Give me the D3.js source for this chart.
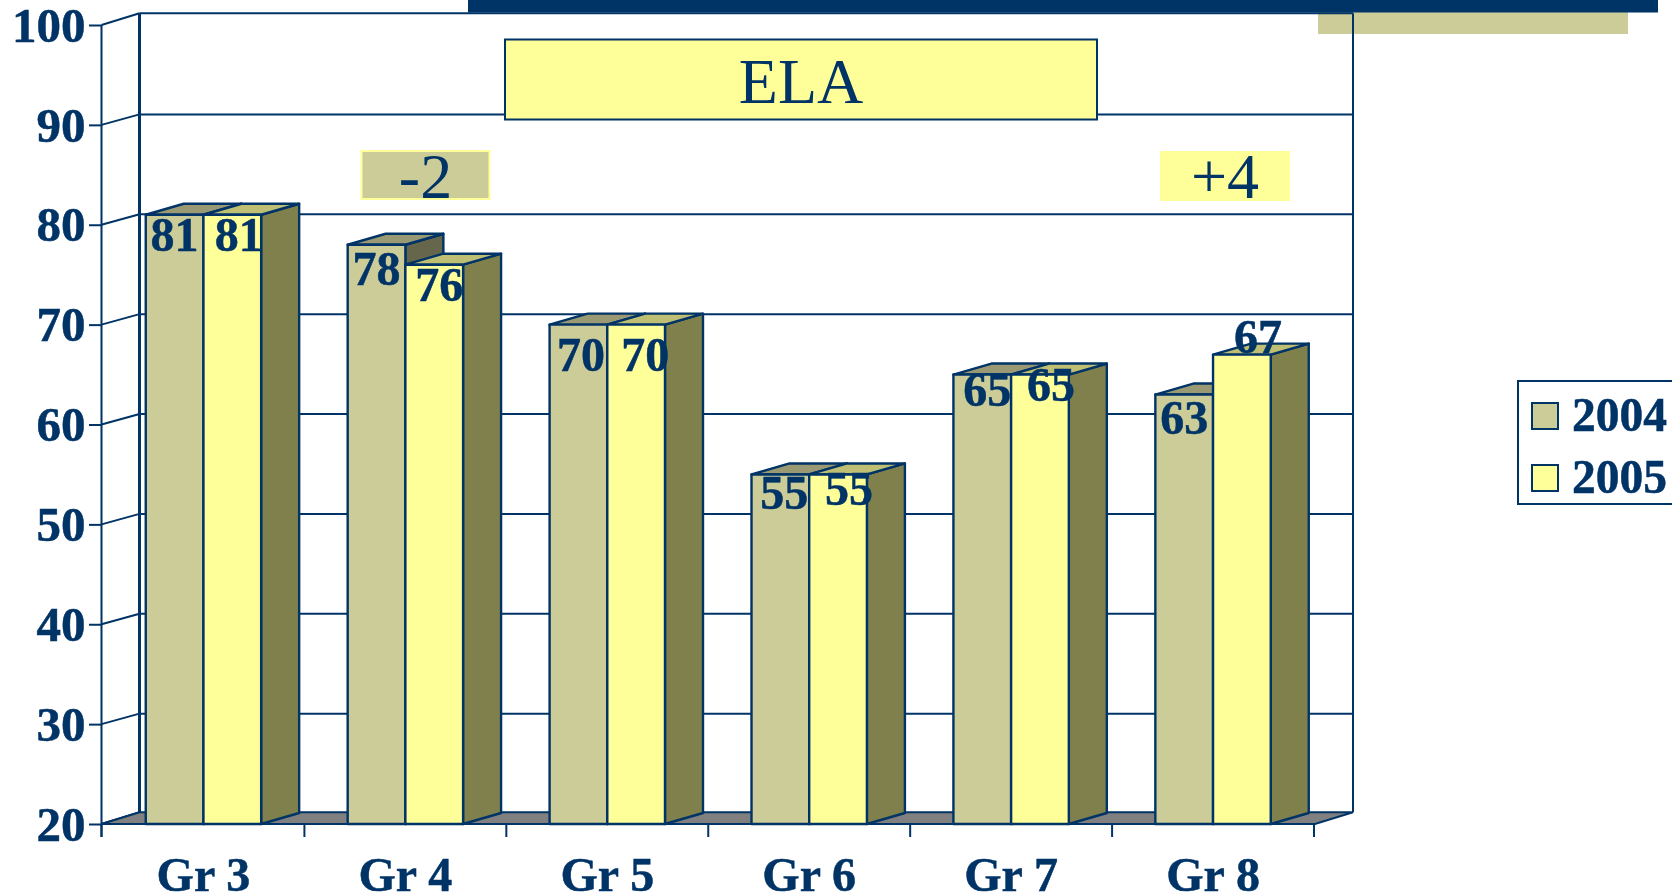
<!DOCTYPE html>
<html>
<head>
<meta charset="utf-8">
<script src="https://cdn.jsdelivr.net/npm/d3@7/dist/d3.min.js"></script>
<style>
html,body{margin:0;padding:0;background:#fff;overflow:hidden}
svg{display:block;filter:blur(0.35px)}
text{font-family:"Liberation Serif","Times New Roman",serif;fill:#003366}
.b{stroke:#003366;stroke-width:0.5px}
</style>
</head>
<body>
<svg id="c" width="1672" height="896"></svg>
<script>
// ---- data ----
const categories = ["Gr 3","Gr 4","Gr 5","Gr 6","Gr 7","Gr 8"];
const seriesNames = ["2004","2005"];
const values2004 = [81,78,70,55,65,63];
const values2005 = [81,76,70,55,65,67];
const yTicks = [20,30,40,50,60,70,80,90,100];
const chartTitle = "ELA";
const changeLeft = "-2";
const changeRight = "+4";

// ---- label placement relative to each bar (dx from bar centre, dy from bar top) ----
const labelOffset2004 = [[0,36],[0,40],[2.5,46],[4,35],[5,31],[0,39]];
const labelOffset2005 = [[6.5,36],[5,36],[9,46],[11,31],[11,26],[16,-2]];

// ---- layout ----
const navy = "#003366";
const F = {l:101.5, r:1315, t:25, b:824};
const wallDepth = {x:38, y:-11.7};
const gridDepth = -10.5;
const barDepth = {x:38, y:-11};
const faces = {
  "2004": {front:"#CCCC99", top:"#999973", side:"#66664D"},
  "2005": {front:"#FFFF99", top:"#BFBF73", side:"#80804D"}
};

const svg = d3.select("#c");
const x = d3.scaleBand().domain(categories).range([F.l+1,F.r-1]);
const xInner = d3.scaleBand().domain(seriesNames).range([-57.7,57.7]);
const y = d3.scaleLinear().domain([20,100]).range([F.b,F.t]);
const bx = F.l + wallDepth.x, bxr = F.r + wallDepth.x;
const backY = d=> (d===20||d===100) ? y(d)+wallDepth.y : y(d)+gridDepth;

// decorative bars behind the chart
svg.append("rect").attr("x",1318).attr("y",10).attr("width",310).attr("height",24).attr("fill","#CCCC99");
svg.append("rect").attr("x",468).attr("y",0).attr("width",1190).attr("height",12.5).attr("fill",navy);

// walls and gridlines
const walls = svg.append("g").attr("fill","none").attr("stroke",navy);
walls.append("g").selectAll("line").data(yTicks.slice(1)).join("line")
  .attr("x1",bx).attr("x2",bxr)
  .attr("y1",backY).attr("y2",backY)
  .attr("stroke-width",2);
walls.append("g").selectAll("line").data(yTicks).join("line")
  .attr("x1",F.l).attr("x2",bx)
  .attr("y1",d=>y(d)).attr("y2",backY)
  .attr("stroke-width",2);
walls.append("line").attr("x1",bx).attr("x2",bx).attr("y1",y(100)+wallDepth.y).attr("y2",y(20)+wallDepth.y).attr("stroke-width",3);
walls.append("line").attr("x1",bxr).attr("x2",bxr).attr("y1",y(100)+wallDepth.y).attr("y2",y(20)+wallDepth.y).attr("stroke-width",2);

// floor
svg.append("polygon")
  .attr("points",[[F.l,F.b],[F.r,F.b],[bxr,F.b+wallDepth.y],[bx,F.b+wallDepth.y]].join(" "))
  .attr("fill","#808080").attr("stroke",navy).attr("stroke-width",2);

// axes
const yAxis = d3.axisLeft(y).tickValues(yTicks).tickSize(12.5).tickPadding(3.5);
const gy = svg.append("g").attr("transform",`translate(${F.l},0)`).call(yAxis);
gy.selectAll("text").attr("class","b").attr("font-size",49).attr("font-weight","bold").attr("dy","0.33em").style("fill",navy)
  .attr("font-family",'"Liberation Serif"');
gy.selectAll("line").attr("stroke",navy).attr("stroke-width",2);
gy.select(".domain").remove();

const xAxis = d3.axisBottom(x).tickSize(0).tickPadding(0);
const gx = svg.append("g").attr("transform",`translate(0,${F.b})`).call(xAxis);
gx.select(".domain").remove();
gx.selectAll("text").attr("class","b").attr("font-size",48).attr("font-weight","bold").attr("dy",0).attr("y",67)
  .style("fill",navy).attr("font-family",'"Liberation Serif"');
const edges = categories.map(c=>x(c)).concat(x.range()[1]);
edges[0] = F.l;
svg.append("g").selectAll("line").data(edges).join("line")
  .attr("x1",d=>d).attr("x2",d=>d).attr("y1",F.b).attr("y2",F.b+13)
  .attr("stroke",navy).attr("stroke-width",2);
svg.append("line").attr("x1",F.l).attr("x2",F.l).attr("y1",F.t).attr("y2",F.b+13).attr("stroke",navy).attr("stroke-width",2);
svg.append("line").attr("x1",F.l).attr("x2",F.r).attr("y1",F.b).attr("y2",F.b).attr("stroke",navy).attr("stroke-width",2);

// bars
const rows = [];
categories.forEach((c,i)=>{
  rows.push({c,s:"2004",v:values2004[i],o:labelOffset2004[i]});
  rows.push({c,s:"2005",v:values2005[i],o:labelOffset2005[i]});
});
const w = xInner.bandwidth();
const left = d=>x(d.c)+x.bandwidth()/2+xInner(d.s);
const bars = svg.append("g").selectAll("g").data(rows).join("g")
  .attr("stroke",navy).attr("stroke-width",2.4).attr("stroke-linejoin","round");
bars.append("polygon").attr("fill",d=>faces[d.s].side)
  .attr("points",d=>{const l=left(d)+w,t=y(d.v);return [[l,t],[l+barDepth.x,t+barDepth.y],[l+barDepth.x,F.b+barDepth.y],[l,F.b]].join(" ");});
bars.append("polygon").attr("fill",d=>faces[d.s].top)
  .attr("points",d=>{const l=left(d),t=y(d.v);return [[l,t],[l+w,t],[l+w+barDepth.x,t+barDepth.y],[l+barDepth.x,t+barDepth.y]].join(" ");});
bars.append("rect").attr("fill",d=>faces[d.s].front)
  .attr("x",left).attr("y",d=>y(d.v)).attr("width",w).attr("height",d=>F.b-y(d.v));

// value labels
svg.append("g").selectAll("text").data(rows).join("text").attr("class","b")
  .attr("x",d=>left(d)+w/2+d.o[0]).attr("y",d=>y(d.v)+d.o[1])
  .attr("text-anchor","middle").attr("font-size",48).attr("font-weight","bold")
  .text(d=>d.v);

// title box
svg.append("rect").attr("x",505).attr("y",39.5).attr("width",592).attr("height",80)
  .attr("fill","#FFFF99").attr("stroke",navy).attr("stroke-width",2);
svg.append("text").attr("x",801).attr("y",103).attr("text-anchor","middle").attr("font-size",64).text(chartTitle);

// change callouts
svg.append("rect").attr("x",361.5).attr("y",151).attr("width",128).attr("height",48)
  .attr("fill","#CCCC99").attr("stroke","#FFFF99").attr("stroke-width",2);
svg.append("text").attr("x",425.5).attr("y",198).attr("text-anchor","middle").attr("font-size",64).text(changeLeft);
svg.append("rect").attr("x",1160).attr("y",151).attr("width",130).attr("height",50).attr("fill","#FFFF99");
svg.append("text").attr("x",1225).attr("y",198).attr("text-anchor","middle").attr("font-size",64).text(changeRight);

// legend
svg.append("rect").attr("x",1518).attr("y",381).attr("width",160).attr("height",123)
  .attr("fill","#fff").attr("stroke",navy).attr("stroke-width",2);
const leg = svg.append("g").selectAll("g").data(seriesNames).join("g")
  .attr("transform",(d,i)=>`translate(0,${i*62})`);
leg.append("rect").attr("x",1532).attr("y",403).attr("width",26).attr("height",26)
  .attr("fill",d=>faces[d].front).attr("stroke",navy).attr("stroke-width",2);
leg.append("text").attr("class","b").attr("x",1572).attr("y",431).attr("font-size",47.5).attr("font-weight","bold").text(d=>d);
</script>
</body>
</html>
